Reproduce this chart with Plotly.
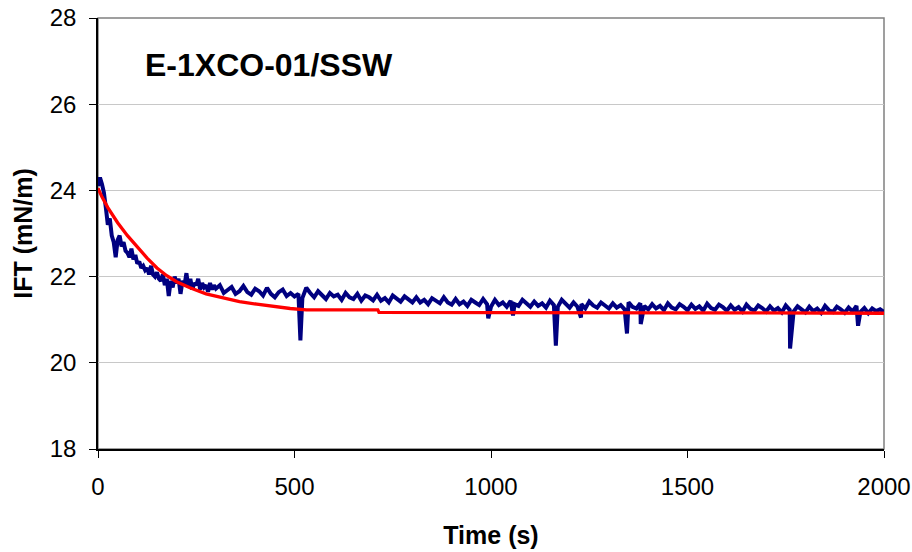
import plotly.graph_objects as go

# ---- data ----
# measured IFT (dense early part, 5 s step, 0..300 s)
early_t = list(range(0, 305, 5))
early_v = [24.10, 24.30, 24.15, 23.95, 23.60, 23.20, 23.35, 22.95, 22.80, 22.45,
           22.85, 22.95, 22.70, 22.80, 22.60, 22.55, 22.45, 22.65, 22.40, 22.50,
           22.30, 22.35, 22.20, 22.25, 22.15, 22.20, 22.05, 22.25, 22.05, 22.00,
           22.10, 21.95, 21.90, 22.05, 21.80, 21.95, 21.55, 21.90, 21.75, 22.00,
           21.85, 21.95, 21.60, 21.90, 21.80, 22.08, 21.75, 21.95, 21.70, 21.85,
           21.80, 21.95, 21.70, 21.85, 21.75, 21.80, 21.65, 21.85, 21.70, 21.80,
           21.72]

# measured IFT (10 s step, 310..2000 s)
late_t = list(range(310, 2010, 10))
late_v = [21.80, 21.62, 21.70, 21.76, 21.60, 21.66, 21.78, 21.64, 21.58, 21.72,
          21.66, 21.56, 21.74, 21.60, 21.52, 21.64, 21.70, 21.55, 21.62, 21.54,
          21.60, 21.50, 21.74, 21.62, 21.52, 21.66, 21.56, 21.48, 21.62, 21.54,
          21.58, 21.46, 21.62, 21.52, 21.48, 21.60, 21.44, 21.56, 21.52, 21.45,
          21.58, 21.44, 21.50, 21.40, 21.56, 21.48, 21.42, 21.54, 21.46, 21.40,
          21.52, 21.40, 21.46, 21.36, 21.50, 21.44, 21.38, 21.52, 21.40, 21.35,
          21.48, 21.36, 21.42, 21.32, 21.46, 21.40, 21.34, 21.48, 21.36, 21.30,
          21.46, 21.34, 21.40, 21.30, 21.44, 21.36, 21.32, 21.46, 21.38, 21.30,
          21.42, 21.32, 21.38, 21.28, 21.44, 21.34, 21.30, 21.46, 21.36, 21.28,
          21.40, 21.30, 21.36, 21.26, 21.42, 21.33, 21.28, 21.40, 21.34, 21.26,
          21.38, 21.28, 21.34, 21.24, 21.40, 21.30, 21.26, 21.38, 21.32, 21.24,
          21.36, 21.26, 21.32, 21.22, 21.38, 21.28, 21.24, 21.36, 21.30, 21.22,
          21.35, 21.25, 21.31, 21.21, 21.37, 21.27, 21.23, 21.35, 21.29, 21.21,
          21.33, 21.23, 21.29, 21.19, 21.35, 21.25, 21.21, 21.33, 21.27, 21.19,
          21.31, 21.21, 21.27, 21.17, 21.33, 21.23, 21.19, 21.31, 21.25, 21.17,
          21.30, 21.20, 21.26, 21.16, 21.32, 21.22, 21.18, 21.30, 21.24, 21.16,
          21.28, 21.19, 21.32, 21.18, 21.27, 21.15, 21.26, 21.20, 21.24, 21.18]

# downward spikes in the measured curve
spike_t = [515, 993, 1056, 1165, 1229, 1346, 1381, 1761, 1934]
spike_v = [20.52, 21.03, 21.10, 20.40, 21.05, 20.68, 20.90, 20.33, 20.86]

# fitted curve (red)
fit_t = [0, 10, 25, 50, 75, 100, 125, 150, 175, 200, 234, 275, 318, 360, 404,
         450, 489, 530, 600, 712, 715, 1000, 1500, 2000]
fit_v = [24.05, 23.85, 23.60, 23.25, 22.95, 22.68, 22.43, 22.20, 22.02, 21.88,
         21.74, 21.60, 21.50, 21.42, 21.36, 21.30, 21.26, 21.23, 21.23, 21.23,
         21.17, 21.17, 21.16, 21.15]

label_text = "E-1XCO-01/SSW"
label_pos = (114, 26.9)

# merge measured points in time order
pts = sorted(zip(early_t + late_t + spike_t, early_v + late_v + spike_v))
meas_t = [p[0] for p in pts]
meas_v = [p[1] for p in pts]

FONT = "Arial, 'Liberation Sans', sans-serif"

fig = go.Figure()
fig.add_trace(go.Scatter(x=meas_t, y=meas_v, mode="lines",
                         line=dict(color="#000080", width=4),
                         showlegend=False))
fig.add_trace(go.Scatter(x=fit_t, y=fit_v, mode="lines",
                         line=dict(color="#FF0000", width=3.3, shape="linear"),
                         showlegend=False))

# gray frame (top / right)
fig.add_shape(type="rect", xref="paper", yref="paper", x0=0, x1=1, y0=0, y1=1,
              line=dict(color="#808080", width=1.5), layer="below")

fig.add_annotation(x=label_pos[0], y=label_pos[1], text="<b>%s</b>" % label_text,
                   showarrow=False, xanchor="left", yanchor="middle",
                   font=dict(family=FONT, size=32, color="black"))

fig.update_layout(
    width=912, height=552,
    margin=dict(l=98, r=28, t=18, b=103),
    paper_bgcolor="white", plot_bgcolor="white",
    font=dict(family=FONT, size=24, color="black"),
    xaxis=dict(range=[0, 2000], tickvals=[0, 500, 1000, 1500, 2000],
               showgrid=False, zeroline=False, automargin=False,
               showline=True, linecolor="black", linewidth=1.5,
               ticks="outside", ticklen=7, tickcolor="black", tickwidth=1,
               ticklabelstandoff=8,
               tickfont=dict(size=24),
               title=dict(text="<b>Time (s)</b>", font=dict(size=25), standoff=28)),
    yaxis=dict(range=[18, 28], tickvals=[18, 20, 22, 24, 26, 28],
               showgrid=True, gridcolor="#c8c8c8", gridwidth=1.2, zeroline=False,
               automargin=False,
               showline=True, linecolor="black", linewidth=1.5,
               ticks="outside", ticklen=7, tickcolor="black", tickwidth=1,
               ticklabelstandoff=8,
               tickfont=dict(size=24),
               title=dict(text="<b>IFT (mN/m)</b>", font=dict(size=25), standoff=10)),
)

fig.write_html("out.html")
